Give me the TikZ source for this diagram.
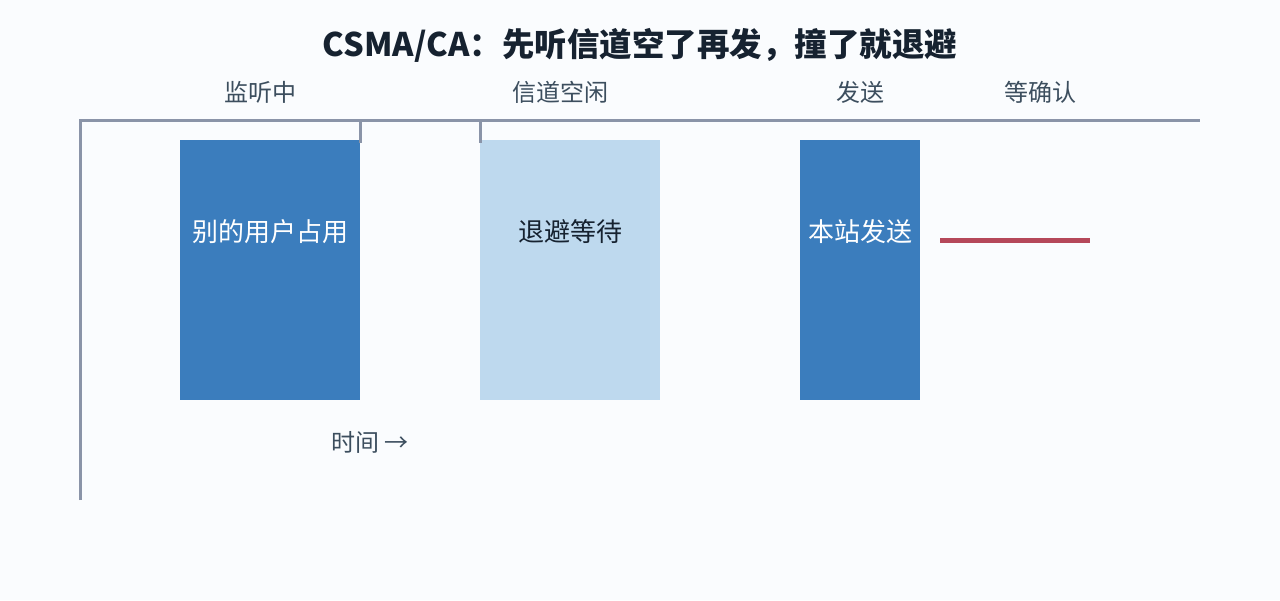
\documentclass[tikz,border=0pt]{standalone}
\usepackage{fontspec}
\setmainfont{Noto Sans CJK SC}
\definecolor{bg}{RGB}{250,252,254}
\definecolor{axis}{RGB}{138,148,168}
\definecolor{busy}{RGB}{59,125,189}
\definecolor{wait}{RGB}{190,217,238}
\definecolor{coll}{RGB}{181,72,90}
\definecolor{titlec}{RGB}{22,34,48}
\definecolor{labc}{RGB}{60,78,94}
\begin{document}
\begin{tikzpicture}[x=1pt,y=-1pt,
  axisline/.style={draw=axis,line width=3pt},
  slot/.style={draw=none,inner sep=0pt,anchor=north west},
  phase/.style={text=labc,font=\fontsize{24}{28}\selectfont,inner sep=0pt},
  inlabel/.style={font=\fontsize{26}{30}\selectfont,inner sep=0pt}]
\fill[bg] (0,0) rectangle (1280,600);
\useasboundingbox (0,0) rectangle (1280,600);
\node[text=titlec,font=\fontsize{32.5}{36}\bfseries\selectfont,inner sep=0pt] (title) at (640,45) {CSMA/CA：先听信道空了再发，撞了就退避};
\node[phase] (p1) at (260,92) {监听中};
\node[phase] (p2) at (560,92) {信道空闲};
\node[phase] (p3) at (860,92) {发送};
\node[phase] (p4) at (1040,92) {等确认};
\coordinate (o) at (80,120);
\coordinate (xe) at (1200,120);
\coordinate (ye) at (80,500);
\coordinate (t1) at (360,120);
\coordinate (t1e) at (360,143);
\coordinate (t2) at (480,120);
\coordinate (t2e) at (480,143);
\node[slot,fill=busy,minimum width=180pt,minimum height=260pt] (r1) at (180,140) {};
\node[slot,fill=wait,minimum width=180pt,minimum height=260pt] (r2) at (480,140) {};
\node[slot,fill=busy,minimum width=120pt,minimum height=260pt] (r3) at (800,140) {};
\node[inlabel,text=white] (l1) at (270,232) {别的用户占用};
\node[inlabel,text=titlec] (l2) at (570,232) {退避等待};
\node[inlabel,text=white] (l3) at (860,232) {本站发送};
\coordinate (c1) at (940,240);
\coordinate (c2) at (1090,240);
\draw[coll,line width=5pt] (c1) -- (c2);
\draw[axisline] (t1) -- (t1e);
\draw[axisline] (t2) -- (t2e);
\draw[axisline,line join=miter] (ye) -- (o) -- (xe);
\node[phase] (time) at (370,442) {时间 →};
\end{tikzpicture}
\end{document}
